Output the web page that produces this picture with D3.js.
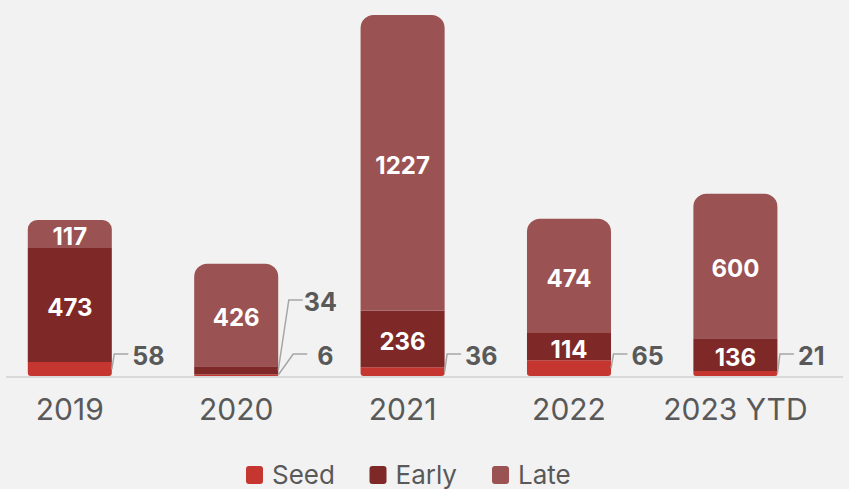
<!DOCTYPE html>
<html>
<head>
<meta charset="utf-8">
<script src="https://cdn.jsdelivr.net/npm/d3@7"></script>
<style>
  html, body { margin: 0; padding: 0; background: #f2f2f2; }
  svg { display: block; font-family: Inter, "Noto Sans", sans-serif; }
</style>
</head>
<body>
<svg id="chart" width="849" height="489"></svg>
<script>
// Deal counts by stage and year
const years = ["2019", "2020", "2021", "2022", "2023 YTD"];
const seriesNames = ["Seed", "Early", "Late"];
const seed  = [58, 6, 36, 65, 21];
const early = [473, 34, 236, 114, 136];
const late  = [117, 426, 1227, 474, 600];
const colors = ["#c4362f", "#7e2828", "#9b5252"];

const W = 849, H = 489;
const baseY = 376, topY = 15;
const svg = d3.select("#chart");
svg.append("rect").attr("width", W).attr("height", H).attr("fill", "#f2f2f2");

const rows = years.map((y, i) => ({ year: y, Seed: seed[i], Early: early[i], Late: late[i] }));
const stacked = d3.stack().keys(seriesNames)(rows);
const maxTotal = d3.max(rows, d => d.Seed + d.Early + d.Late);

const x = d3.scaleBand().domain(years).range([-13.4, 818.6]).paddingInner(0.495).paddingOuter(0.2475);
const y = d3.scaleLinear().domain([0, maxTotal]).range([baseY, topY]);

// baseline
svg.append("line").attr("x1", 6).attr("x2", 843).attr("y1", baseY + 1).attr("y2", baseY + 1)
  .attr("stroke", "#d9d9d9").attr("stroke-width", 2);

// segment path with optional rounded top / bottom corners
function segPath(x0, x1, yTop, yBot, rt, rb) {
  const p = d3.path();
  p.moveTo(x0, yTop + rt);
  if (rt > 0) p.arcTo(x0, yTop, x0 + rt, yTop, rt); else p.lineTo(x0, yTop);
  if (rt > 0) { p.lineTo(x1 - rt, yTop); p.arcTo(x1, yTop, x1, yTop + rt, rt); } else p.lineTo(x1, yTop);
  if (rb > 0) { p.lineTo(x1, yBot - rb); p.arcTo(x1, yBot, x1 - rb, yBot, rb); p.lineTo(x0 + rb, yBot); p.arcTo(x0, yBot, x0, yBot - rb, rb); }
  else { p.lineTo(x1, yBot); p.lineTo(x0, yBot); }
  p.closePath();
  return p.toString();
}

const bw = x.bandwidth();
const outside = years.map(() => []);

stacked.forEach((layer, li) => {
  const g = svg.append("g");
  layer.forEach((d, i) => {
    const x0 = x(years[i]), x1 = x0 + bw;
    const yTop = y(d[1]), yBot = y(d[0]);
    const h = yBot - yTop;
    const isTop = li === stacked.length - 1;
    const isBottom = li === 0;
    const rt = isTop ? Math.min(13, h / 3) : 0;
    const rb = isBottom ? Math.min(3, h / 2) : 0;
    g.append("path").attr("d", segPath(x0, x1, yTop, yBot, rt, rb)).attr("fill", colors[li]);
    const v = d[1] - d[0];
    if (h >= 22) {
      svg.append("text").attr("x", x0 + bw / 2).attr("y", (yTop + yBot) / 2)
        .attr("dy", "0.46em").attr("text-anchor", "middle")
        .attr("fill", "#ffffff").attr("font-weight", 700).attr("font-size", 24)
        .text(v);
    } else {
      outside[i].push({ v, x1, yMid: (yTop + yBot) / 2 });
    }
  });
});

// outside labels with leader lines for thin segments;
// when two labels share a bar, the lower one steps right and the upper one is lifted
outside.forEach((list, i) => {
  const crowded = list.length > 1;
  list.forEach((o, k) => {
    const lineY = k === 0 ? baseY - 22 : baseY - 76;
    const elbow = o.x1 + (crowded ? (k === 0 ? 15 : 10.6) : 2.5);
    const end = elbow + 14;
    const gap = crowded ? (k === 0 ? 10 : 1) : 4;
    const sy = Math.min(o.yMid, baseY - 1);
    svg.append("path")
      .attr("d", `M${o.x1},${sy}L${elbow},${lineY}L${end},${lineY}`)
      .attr("fill", "none").attr("stroke", "#a6a6a6").attr("stroke-width", 1.5);
    svg.append("text").attr("x", end + gap).attr("y", lineY + 2)
      .attr("dy", "0.36em").attr("fill", "#595959").attr("font-weight", 700).attr("font-size", 25)
      .text(o.v);
  });
});

// category axis
const xAxis = svg.append("g").attr("transform", `translate(0,${baseY})`)
  .call(d3.axisBottom(x).tickSize(0).tickPadding(23));
xAxis.select(".domain").remove();
xAxis.selectAll("text").attr("font-size", 30).attr("fill", "#595959")
  .attr("font-family", "Inter, 'Noto Sans', sans-serif");

// legend
const legendX = [246, 369.5, 492];
const legend = svg.append("g");
seriesNames.forEach((name, i) => {
  const gx = legendX[i];
  legend.append("rect").attr("x", gx).attr("y", 466).attr("width", 17).attr("height", 18)
    .attr("rx", 3).attr("fill", colors[i]);
  legend.append("text").attr("x", gx + 26).attr("y", 475).attr("dy", "0.36em")
    .attr("font-size", 26).attr("fill", "#595959").text(name);
});
</script>
</body>
</html>
